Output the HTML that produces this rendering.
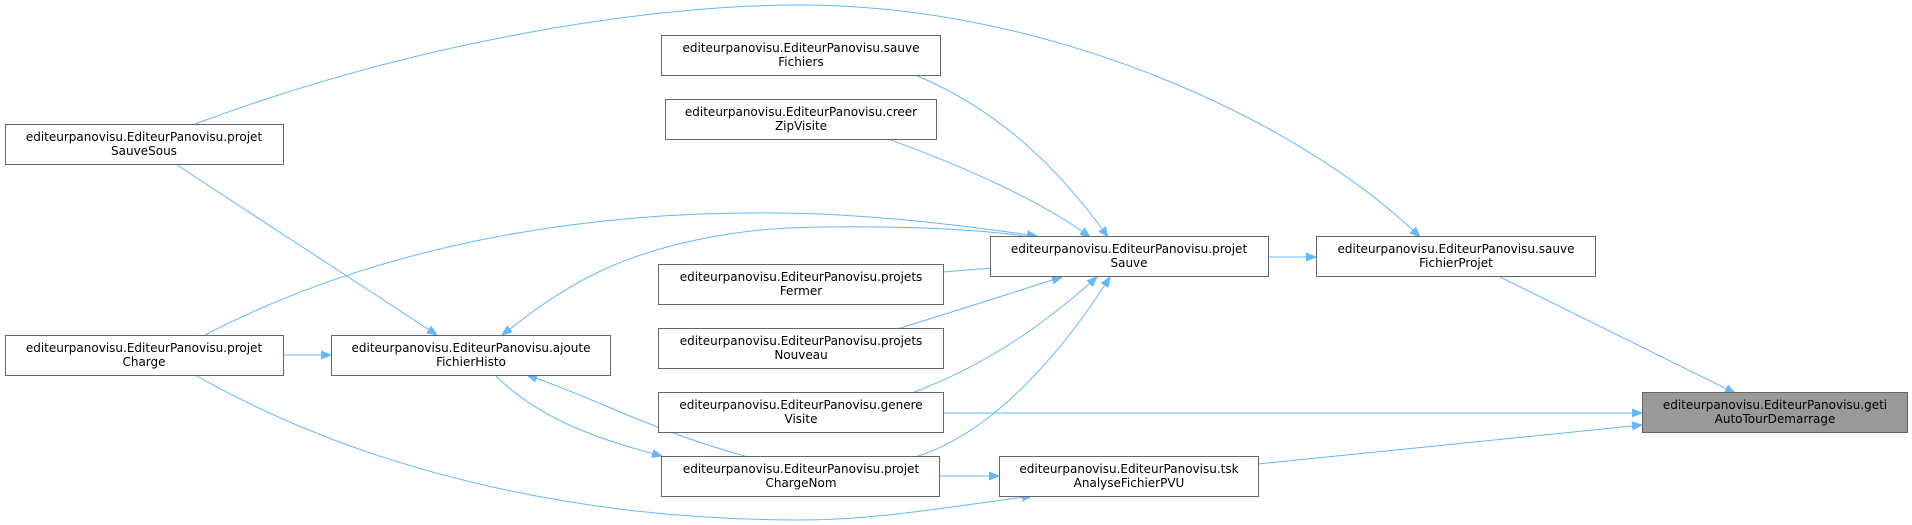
<!DOCTYPE html>
<html><head><meta charset="utf-8"><style>
html,body{margin:0;padding:0;background:#fff;width:1912px;height:525px;overflow:hidden}
svg text{font-family:"DejaVu Sans","Liberation Sans",sans-serif;font-size:12px;fill:#000;text-anchor:middle}
</style></head><body>
<svg width="1912" height="525" viewBox="0 0 1912 525" xmlns="http://www.w3.org/2000/svg">
<defs><marker id="a" viewBox="0 0 10 10" refX="10" refY="5" markerWidth="10" markerHeight="10" markerUnits="userSpaceOnUse" orient="auto"><path d="M0,1 L10,5 L0,9 z" fill="#63b8ff" stroke="#63b8ff"/></marker></defs>
<g fill="none" stroke="#63b8ff" stroke-width="1" marker-end="url(#a)">
<path d="M1500,277 L1735,393"/>
<path d="M1268,257 L1316,257"/>
<path d="M943,413 L1642,413"/>
<path d="M1258,464 L1642,425"/>
<path d="M195,124 C420,40 650,5 800,5 C1050,5 1300,120 1420,237"/>
<path d="M915,75 C1000,110 1060,170 1108,237"/>
<path d="M888,139 C960,165 1040,200 1090,237"/>
<path d="M943,272 L1030,265"/>
<path d="M897,329 C960,310 1020,290 1062,277"/>
<path d="M912,393 C1000,360 1060,310 1097,277"/>
<path d="M918,456 C1000,430 1070,340 1110,277"/>
<path d="M205,335 C330,270 520,210 780,213 C870,214 960,225 1037,236"/>
<path d="M1032,237 C950,225 820,225 760,230 C620,245 560,290 502,335"/>
<path d="M177,165 L437,335"/>
<path d="M283,355 L331,355"/>
<path d="M495,375 C540,420 600,440 662,456"/>
<path d="M745,456 C650,430 600,400 527,375"/>
<path d="M939,476 L999,476"/>
<path d="M195,375 C380,480 600,520 800,520 C880,520 960,505 1032,496"/>
</g>
<g fill="#fff" stroke="#666" stroke-width="1">
<rect x="5.5" y="124.5" width="278" height="40"/>
<rect x="5.5" y="335.5" width="278" height="40"/>
<rect x="331.5" y="335.5" width="279" height="40"/>
<rect x="661.5" y="35.5" width="279" height="40"/>
<rect x="665.5" y="99.5" width="271" height="40"/>
<rect x="658.5" y="264.5" width="285" height="40"/>
<rect x="658.5" y="328.5" width="285" height="40"/>
<rect x="658.5" y="392.5" width="285" height="40"/>
<rect x="661.5" y="456.5" width="278" height="40"/>
<rect x="990.5" y="236.5" width="278" height="40"/>
<rect x="1316.5" y="236.5" width="279" height="40"/>
<rect x="999.5" y="456.5" width="259" height="40"/>
<rect x="1642.5" y="392.5" width="265" height="40" fill="#999"/>
</g>
<text x="144" y="141">editeurpanovisu.EditeurPanovisu.projet</text><text x="144" y="155">SauveSous</text>
<text x="144" y="352">editeurpanovisu.EditeurPanovisu.projet</text><text x="144" y="366">Charge</text>
<text x="471" y="352">editeurpanovisu.EditeurPanovisu.ajoute</text><text x="471" y="366">FichierHisto</text>
<text x="801" y="52">editeurpanovisu.EditeurPanovisu.sauve</text><text x="801" y="66">Fichiers</text>
<text x="801" y="116">editeurpanovisu.EditeurPanovisu.creer</text><text x="801" y="130">ZipVisite</text>
<text x="801" y="281">editeurpanovisu.EditeurPanovisu.projets</text><text x="801" y="295">Fermer</text>
<text x="801" y="345">editeurpanovisu.EditeurPanovisu.projets</text><text x="801" y="359">Nouveau</text>
<text x="801" y="409">editeurpanovisu.EditeurPanovisu.genere</text><text x="801" y="423">Visite</text>
<text x="801" y="473">editeurpanovisu.EditeurPanovisu.projet</text><text x="801" y="487">ChargeNom</text>
<text x="1129" y="253">editeurpanovisu.EditeurPanovisu.projet</text><text x="1129" y="267">Sauve</text>
<text x="1456" y="253">editeurpanovisu.EditeurPanovisu.sauve</text><text x="1456" y="267">FichierProjet</text>
<text x="1129" y="473">editeurpanovisu.EditeurPanovisu.tsk</text><text x="1129" y="487">AnalyseFichierPVU</text>
<text x="1775" y="409">editeurpanovisu.EditeurPanovisu.geti</text><text x="1775" y="423">AutoTourDemarrage</text>
</svg>
</body></html>
